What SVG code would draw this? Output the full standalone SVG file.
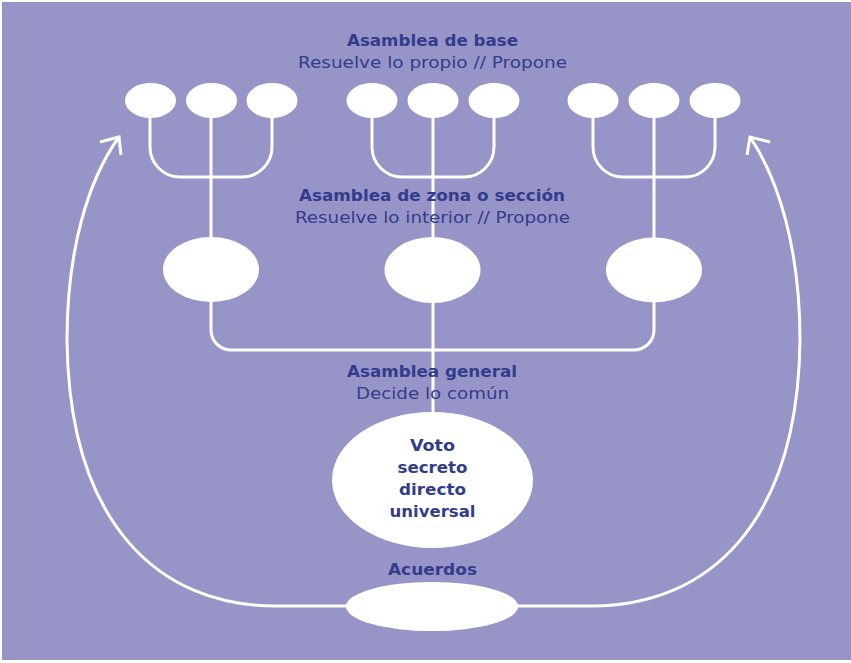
<svg xmlns="http://www.w3.org/2000/svg" width="851" height="663" viewBox="0 0 851 663">
<style>
.bg{fill:#9794c8}
.node{fill:#ffffff}
.ln{fill:none;stroke:#ffffff;stroke-width:3}
.t{font-family:"DejaVu Sans","Liberation Sans",sans-serif;fill:#333c8c;text-anchor:middle;font-size:16px}
.b{font-weight:700}
</style>
<rect x="0" y="0" width="851" height="663" fill="#ffffff"/>
<rect class="bg" x="2" y="2" width="849" height="658"/>
<g id="connectors">
  <path class="ln" d="M150,117 V147 A30,30 0 0 0 180,177 H242 A30,30 0 0 0 272,147 V117"/>
  <path class="ln" d="M211,117 V238"/>
  <path class="ln" d="M372,117 V147 A30,30 0 0 0 402,177 H464 A30,30 0 0 0 494,147 V117"/>
  <path class="ln" d="M433,117 V238"/>
  <path class="ln" d="M593,117 V147 A30,30 0 0 0 623,177 H685 A30,30 0 0 0 715,147 V117"/>
  <path class="ln" d="M654,117 V238"/>
  <path class="ln" d="M211,300 V330 A20,20 0 0 0 231,350 H634 A20,20 0 0 0 654,330 V300"/>
  <path class="ln" d="M433,300 V413"/>
  <path class="ln" d="M350,606 H275 C160,606 69,525 67,340 C67,250 88,180 119,137"/>
  <path class="ln" d="M100,142 L119,137 L121,155"/>
  <path class="ln" d="M516,606 H592 C707,606 798,525 800,340 C800,250 779,180 750,137"/>
  <path class="ln" d="M770,142 L750,137 L747,155"/>
</g>
<g id="base-1"><ellipse class="node" cx="150.5" cy="100.5" rx="25.5" ry="17.5"/></g>
<g id="base-2"><ellipse class="node" cx="211.5" cy="100.5" rx="25.5" ry="17.5"/></g>
<g id="base-3"><ellipse class="node" cx="272" cy="100.5" rx="25.5" ry="17.5"/></g>
<g id="base-4"><ellipse class="node" cx="372" cy="100.5" rx="25.5" ry="17.5"/></g>
<g id="base-5"><ellipse class="node" cx="433" cy="100.5" rx="25.5" ry="17.5"/></g>
<g id="base-6"><ellipse class="node" cx="494" cy="100.5" rx="25.5" ry="17.5"/></g>
<g id="base-7"><ellipse class="node" cx="593" cy="100.5" rx="25.5" ry="17.5"/></g>
<g id="base-8"><ellipse class="node" cx="654" cy="100.5" rx="25.5" ry="17.5"/></g>
<g id="base-9"><ellipse class="node" cx="715" cy="100.5" rx="25.5" ry="17.5"/></g>
<g id="zona-1"><ellipse class="node" cx="211" cy="269.5" rx="48" ry="32.5"/></g>
<g id="zona-2"><ellipse class="node" cx="432.5" cy="270" rx="48" ry="33"/></g>
<g id="zona-3"><ellipse class="node" cx="654" cy="270" rx="48" ry="32.5"/></g>
<g id="voto">
  <ellipse class="node" cx="432.5" cy="480" rx="100.5" ry="68"/>
  <text class="t b" font-size="17" x="432.5" y="451" textLength="45" lengthAdjust="spacingAndGlyphs">Voto</text>
  <text class="t b" font-size="17" x="432.5" y="473" textLength="70" lengthAdjust="spacingAndGlyphs">secreto</text>
  <text class="t b" font-size="17" x="432.5" y="495" textLength="67" lengthAdjust="spacingAndGlyphs">directo</text>
  <text class="t b" font-size="17" x="432.5" y="517" textLength="86" lengthAdjust="spacingAndGlyphs">universal</text>
</g>
<g id="acuerdos">
  <ellipse class="node" cx="432" cy="606.5" rx="86" ry="24.5"/>
  <text class="t b" x="432.5" y="575" textLength="89" lengthAdjust="spacingAndGlyphs">Acuerdos</text>
</g>
<g id="labels">
  <text class="t b" x="432.5" y="46" textLength="171" lengthAdjust="spacingAndGlyphs">Asamblea de base</text>
  <text class="t" x="432.5" y="68" textLength="269" lengthAdjust="spacingAndGlyphs">Resuelve lo propio // Propone</text>
  <text class="t b" x="432" y="201" textLength="266" lengthAdjust="spacingAndGlyphs">Asamblea de zona o sección</text>
  <text class="t" x="432.5" y="223" textLength="275" lengthAdjust="spacingAndGlyphs">Resuelve lo interior // Propone</text>
  <text class="t b" x="432" y="377" textLength="170" lengthAdjust="spacingAndGlyphs">Asamblea general</text>
  <text class="t" x="432.5" y="399" textLength="153" lengthAdjust="spacingAndGlyphs">Decide lo común</text>
</g>
</svg>
